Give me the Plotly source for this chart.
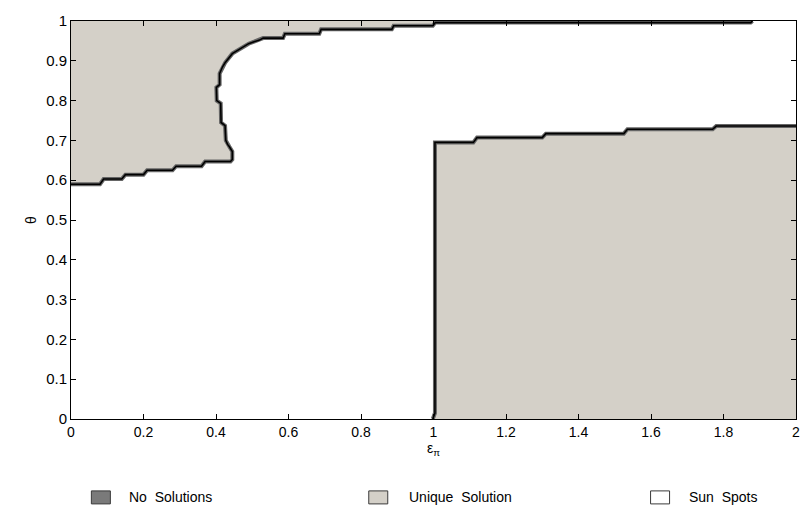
import plotly.graph_objects as go

# Boundary of the upper-left "Unique Solution" region (eps_pi, theta)
upper_x = [0.0, 0.08, 0.09, 0.14, 0.15, 0.20, 0.21, 0.28, 0.29, 0.36, 0.37, 0.44,
           0.445, 0.445, 0.437, 0.432, 0.427, 0.425, 0.414, 0.413, 0.402, 0.401,
           0.41, 0.41, 0.418, 0.425, 0.445, 0.46, 0.473, 0.49, 0.505, 0.52, 0.53,
           0.585, 0.59, 0.685, 0.69, 0.885, 0.89, 0.998, 1.005, 1.875, 1.88]
upper_y = [0.59, 0.59, 0.603, 0.603, 0.614, 0.614, 0.625, 0.625, 0.635, 0.635, 0.647, 0.647,
           0.652, 0.672, 0.684, 0.69, 0.70, 0.737, 0.745, 0.793, 0.80, 0.833,
           0.84, 0.868, 0.885, 0.895, 0.918, 0.927, 0.935, 0.943, 0.948, 0.952, 0.957,
           0.957, 0.968, 0.968, 0.979, 0.979, 0.988, 0.988, 0.996, 0.996, 1.0]

# Boundary of the lower-right "Unique Solution" region
lower_x = [0.998, 1.004, 1.004, 1.11, 1.12, 1.30, 1.31, 1.525, 1.535, 1.77, 1.78, 2.0]
lower_y = [0.0, 0.015, 0.695, 0.695, 0.707, 0.707, 0.717, 0.717, 0.728, 0.728, 0.736, 0.736]

legend_names = ["No\u00a0 Solutions", "Unique\u00a0 Solution", "Sun\u00a0 Spots"]
legend_colors = ["#7a7a7a", "#d4d0c8", "#ffffff"]

FILL = "#d4d0c8"
FONT = "Liberation Sans, Arial, sans-serif"

fig = go.Figure()

# filled regions (closed along the plot edges)
fig.add_trace(go.Scatter(
    x=[0.0] + upper_x + [0.0], y=[1.0] + upper_y + [1.0],
    fill="toself", fillcolor=FILL, mode="none", showlegend=False, hoverinfo="skip"))
fig.add_trace(go.Scatter(
    x=lower_x + [2.0, 0.998], y=lower_y + [0.0, 0.0],
    fill="toself", fillcolor=FILL, mode="none", showlegend=False, hoverinfo="skip"))

# boundary lines: gray halo + black core
for bx, by in [(upper_x, upper_y), (lower_x, lower_y)]:
    fig.add_trace(go.Scatter(x=bx, y=by, mode="lines",
                             line=dict(color="#666666", width=4),
                             showlegend=False, hoverinfo="skip"))
    fig.add_trace(go.Scatter(x=bx, y=by, mode="lines",
                             line=dict(color="#000000", width=1.6),
                             showlegend=False, hoverinfo="skip"))

# legend drawn below the axes: patch + label
legend_patch_x = [0.0412, 0.4238, 0.8125]
legend_text_x = [0.0769, 0.4629, 0.8503]
legend_y = -0.197
for name, col, px, tx in zip(legend_names, legend_colors, legend_patch_x, legend_text_x):
    fig.add_shape(type="rect", xref="paper", yref="paper",
                  xsizemode="pixel", ysizemode="pixel",
                  xanchor=px, yanchor=legend_y,
                  x0=-9.5, x1=9.5, y0=-6.5, y1=6.5,
                  fillcolor=col, line=dict(color="#3a3a3a", width=1))
    fig.add_annotation(text=name, xref="paper", yref="paper", x=tx, y=legend_y,
                       xanchor="left", yanchor="middle", showarrow=False,
                       font=dict(family=FONT, size=14, color="black"))

axis_common = dict(showline=True, linecolor="black", linewidth=1, mirror="ticks",
                   ticks="inside", ticklen=5, tickcolor="black", showgrid=False,
                   zeroline=False, ticklabeloverflow="allow")

fig.update_layout(
    width=812, height=508,
    margin=dict(l=71, r=13, t=16, b=89),
    paper_bgcolor="white", plot_bgcolor="white",
    showlegend=False,
    xaxis=dict(range=[0, 2], dtick=0.2, tick0=0,
               tickfont=dict(family=FONT, size=14, color="black"),
               title=dict(text="ε<sub>π</sub>", standoff=4,
                          font=dict(family=FONT, size=14, color="black")),
               **axis_common),
    yaxis=dict(range=[0, 1], dtick=0.1, tick0=0,
               tickfont=dict(family=FONT, size=15, color="black"),
               title=dict(text="θ", standoff=6,
                          font=dict(family=FONT, size=14, color="black")),
               **axis_common),
)

fig.write_html("out.html", config={"displayModeBar": False},
               post_script="document.body.style.margin='0';")
